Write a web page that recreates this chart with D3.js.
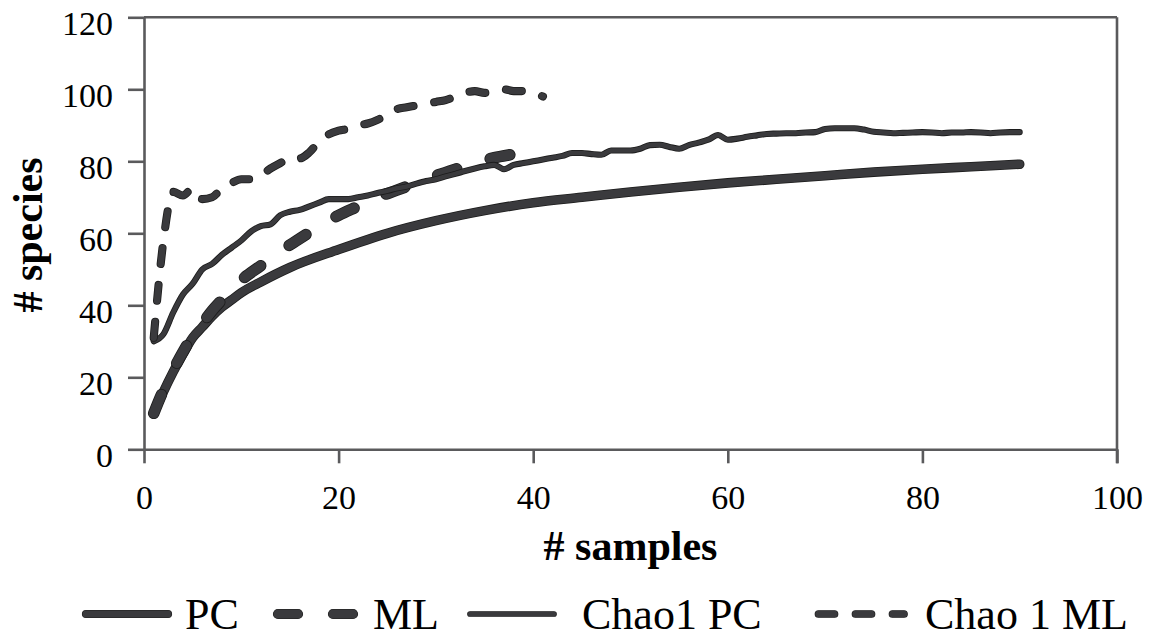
<!DOCTYPE html>
<html>
<head>
<meta charset="utf-8">
<script src="https://cdn.jsdelivr.net/npm/d3@7"></script>
<style>
  body { margin: 0; background: #fff; }
  text { font-family: "Liberation Serif", "Times New Roman", serif; fill: #000; }
</style>
</head>
<body>
<script>
// values
var xTicks = [0, 20, 40, 60, 80, 100]
  , yTicks = [0, 20, 40, 60, 80, 100, 120]
  ;

var pcX  = [1, 2, 3, 4, 5, 6, 7, 8, 9, 10, 12, 15, 20, 25, 30, 35, 40, 45, 50, 55, 60, 65, 70, 75, 80, 85, 90]
  , pcY  = [10, 16, 21.5, 26.5, 31, 34, 37, 39.5, 41.5, 43.5, 46.5, 50.5, 55.5, 60, 63.5, 66.3, 68.5, 70, 71.5, 72.8, 74, 75, 76, 77, 77.8, 78.5, 79.2]
  ;

var mlX  = [1, 2, 3, 4, 5, 6, 7, 8, 9, 10, 12, 14, 16, 18, 20, 22, 24, 26, 28, 30, 32, 34, 36, 38, 40]
  , mlY  = [10, 16.5, 22, 27, 31.5, 35, 38.5, 41.5, 44.5, 47, 51, 55, 58.5, 62, 65, 67.5, 70, 72, 74, 76, 77.8, 79.5, 81, 82, 83]
  ;

var chaoPcY = [30, 32, 38, 43, 46, 50, 51.5, 54, 56, 58, 60.5, 62, 62.5, 65, 66, 66.5, 67.5, 68.5, 69.5, 69.5,
               69.5, 70, 70.5, 71.2, 71.8, 72.5, 73, 73.8, 74.5, 75, 75.8, 76.5, 77.3, 78, 78.6, 79, 77.8, 79, 79.5, 80,
               80.5, 81, 81.5, 82.3, 82.3, 82, 81.8, 83, 83, 83, 83.5, 84.5, 84.6, 84, 83.5, 84.5, 85.2, 86, 87.3, 86,
               86.3, 86.8, 87.2, 87.6, 87.7, 87.8, 87.8, 88, 88.1, 89, 89.2, 89.2, 89.2, 88.8, 88.2, 88, 87.8, 87.9, 88, 88.1,
               88, 87.8, 88, 88, 88.1, 88, 87.8, 88, 88.1, 88.1];

var chaoMlY = [31, 58, 71.5, 70.5, 72.5, 69.5, 70, 72.5, 74, 75, 75, 76, 78, 79.5, 81, 80.8, 82.5, 85.5, 87.5, 88.5,
               89, 90, 90.5, 91.5, 93, 94.5, 95, 95.5, 96, 96.5, 97, 98, 99, 99.5, 99, 99.5, 100, 99.5, 99.5, 99, 98];

var seriesNames = ["PC", "ML", "Chao1 PC", "Chao 1 ML"];

var width = 1155
  , height = 638
  , plotLeft = 144
  , plotRight = 1117
  , plotTop = 17.3
  , plotBottom = 449.3
  , axisColor = "#5a5a5c"
  , ink = "#3a3a3d"
  , edge = "#1c1c1c"
  ;

var x = d3.scaleLinear().domain([0, 100]).range([plotLeft, plotRight]);
var y = d3.scaleLinear().domain([0, 120]).range([plotBottom, plotTop]);

function pairs (xs, ys) {
    return ys.map(function (v, i) { return [xs[i], v]; });
}
function seq (n) {
    return d3.range(1, n + 1);
}

var series = [
    { name: seriesNames[0], data: pairs(pcX, pcY), w: 8, lw: 7, dash: null },
    { name: seriesNames[1], data: pairs(mlX, mlY), w: 10, lw: 9, dash: "20,35" },
    { name: seriesNames[2], data: pairs(seq(chaoPcY.length), chaoPcY), w: 4.5, lw: 4.5, dash: null },
    { name: seriesNames[3], data: pairs(seq(chaoMlY.length), chaoMlY), w: 6.5, lw: 6.5, dash: "16,21" }
];

var svg = d3.select("body").append("svg").attr("width", width).attr("height", height);

// axes
var yAxis = d3.axisLeft(y).tickValues(yTicks).tickSize(16).tickSizeOuter(0).tickPadding(15);
var xAxis = d3.axisBottom(x).tickValues(xTicks).tickSize(14).tickSizeOuter(0).tickPadding(22);

var gy = svg.append("g").attr("transform", "translate(" + plotLeft + ",0)").call(yAxis);
var gx = svg.append("g").attr("transform", "translate(0," + plotBottom + ")").call(xAxis);

[gx, gy].forEach(function (g) {
    g.selectAll("path, line").attr("stroke", axisColor).attr("stroke-width", 2.6);
    g.selectAll("text").attr("font-size", 34).attr("font-family", "Liberation Serif").attr("fill", "#000");
});
gy.selectAll("text").attr("dy", "0.52em").attr("x", -31);
gx.selectAll("text").attr("dy", "0.71em");

// frame: top and right edges
svg.append("line").attr("x1", plotLeft).attr("x2", plotRight).attr("y1", plotTop).attr("y2", plotTop)
    .attr("stroke", axisColor).attr("stroke-width", 2.6);
svg.append("line").attr("x1", plotRight).attr("x2", plotRight).attr("y1", plotTop).attr("y2", plotBottom + 14)
    .attr("stroke", axisColor).attr("stroke-width", 2.6);

// axis titles
svg.append("text").attr("x", x(50)).attr("y", 560).attr("text-anchor", "middle")
    .attr("font-size", 42).attr("font-weight", "bold").text("# samples");
svg.append("text").attr("transform", "translate(42,235) rotate(-90)").attr("text-anchor", "middle")
    .attr("font-size", 42).attr("font-weight", "bold").text("# species");

// series lines, drawn twice for the dark rim
var line = d3.line().x(function (d) { return x(d[0]); }).y(function (d) { return y(d[1]); })
    .curve(d3.curveMonotoneX);

function stroke (sel, s, w, color) {
    sel.attr("fill", "none").attr("stroke", color).attr("stroke-width", w)
        .attr("stroke-linecap", "round").attr("stroke-linejoin", "round");
    if (s.dash) sel.attr("stroke-dasharray", s.dash);
    return sel;
}

var plot = svg.append("g");
series.forEach(function (s) {
    stroke(plot.append("path").attr("d", line(s.data)), s, s.w + 1.6, edge);
    stroke(plot.append("path").attr("d", line(s.data)), s, s.w, ink);
});

// legend
var legendY = 614
  , legendPos = [ { x1: 86, x2: 168, tx: 185 },
                  { x1: 278, x2: 353, tx: 373 },
                  { x1: 470, x2: 554, tx: 582 },
                  { x1: 818.5, x2: 904, tx: 925 } ];

series.forEach(function (s, i) {
    var p = legendPos[i];
    var pts = [[p.x1, legendY], [p.x2, legendY]];
    stroke(svg.append("path").attr("d", d3.line()(pts)), s, s.lw + 1.2, edge);
    stroke(svg.append("path").attr("d", d3.line()(pts)), s, s.lw, ink);
    svg.append("text").attr("x", p.tx).attr("y", 629).attr("font-size", 44).text(s.name);
});
</script>
</body>
</html>
